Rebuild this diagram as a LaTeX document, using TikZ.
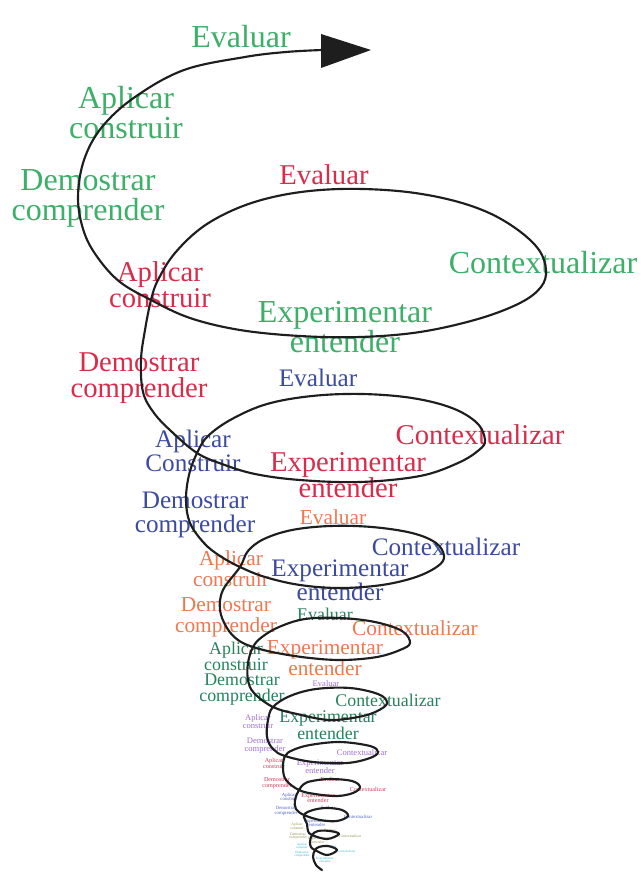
\documentclass[tikz,border=0pt]{standalone}
\usepackage{fontspec}
\setmainfont{Liberation Serif}
\definecolor{cgreen}{RGB}{60,175,105}
\definecolor{cred}{RGB}{215,45,75}
\definecolor{cblue}{RGB}{60,75,160}
\definecolor{corange}{RGB}{240,120,80}
\definecolor{cdgreen}{RGB}{40,130,95}
\definecolor{cpurple}{RGB}{160,110,210}
\definecolor{cmag}{RGB}{210,60,90}
\definecolor{csblue}{RGB}{80,100,200}
\definecolor{colive}{RGB}{150,150,90}
\definecolor{ccyan}{RGB}{60,180,210}
\definecolor{cline}{RGB}{30,30,30}
\tikzset{
  lab/.style={inner sep=0pt, align=center},
  gA/.style={lab, text=cgreen, font=\fontsize{24}{22.5}\selectfont},
  gB/.style={lab, text=cred, font=\fontsize{21.5}{19.5}\selectfont},
  gC/.style={lab, text=cblue, font=\fontsize{18.9}{18}\selectfont},
  gD/.style={lab, text=corange, font=\fontsize{16}{15.5}\selectfont},
  gE/.style={lab, text=cdgreen, font=\fontsize{13.4}{12}\selectfont},
  gF/.style={lab, text=cpurple, font=\fontsize{6.4}{6}\selectfont},
  gG/.style={lab, text=cmag, font=\fontsize{4.6}{4.4}\selectfont},
  gH/.style={lab, text=csblue, font=\fontsize{3.6}{3.4}\selectfont},
  gI/.style={lab, text=colive, font=\fontsize{2.8}{2.7}\selectfont},
  gJ/.style={lab, text=ccyan, font=\fontsize{2.4}{2.3}\selectfont},
  spiral/.style={draw=cline, line width=1.6pt, line cap=round, line join=round}
}
\begin{document}
\begin{tikzpicture}[x=0.75pt,y=-0.75pt]
\useasboundingbox (0,0) rectangle (640,874);
\fill[white] (0,0) rectangle (640,874);

% group 1 (green)
\node[gA] (g1e) at (241,37) {Evaluar};
\node[gA] (g1a) at (126,113) {Aplicar\\construir};
\node[gA] (g1d) at (88,198) {Demostrar\\comprender};
\node[gA] (g1c) at (543,263) {Contextualizar};
\node[gA] (g1x) at (345,327) {Experimentar\\entender};
% group 2 (red)
\node[gB] (g2e) at (324,175) {Evaluar};
\node[gB] (g2a) at (160,285) {Aplicar\\construir};
\node[gB] (g2d) at (139,378) {Demostrar\\comprender};
\node[gB] (g2c) at (480,435) {Contextualizar};
\node[gB] (g2x) at (348,475) {Experimentar\\entender};
% group 3 (blue)
\node[gC] (g3e) at (318,378) {Evaluar};
\node[gC] (g3a) at (193,451) {Aplicar\\Construir};
\node[gC] (g3d) at (195,515) {Demostrar\\comprender};
\node[gC] (g3c) at (446,547) {Contextualizar};
\node[gC] (g3x) at (340,580) {Experimentar\\entender};
% group 4 (orange)
\node[gD] (g4e) at (333,517) {Evaluar};
\node[gD] (g4a) at (231,569) {Aplicar\\construir};
\node[gD] (g4d) at (226,617) {Demostrar\\comprender};
\node[gD] (g4c) at (415,628) {Contextualizar};
\node[gD] (g4x) at (325,658) {Experimentar\\entender};
% group 5 (dark green)
\node[gE] (g5e) at (325,614) {Evaluar};
\node[gE] (g5a) at (236,656) {Aplicar\\construir};
\node[gE] (g5d) at (242,690) {Demostrar\\comprender};
\node[gE] (g5c) at (388,700) {Contextualizar};
\node[gE] (g5x) at (328,725) {Experimentar\\entender};
% group 6 (purple)
\node[gF] (g6e) at (326,684) {Evaluar};
\node[gF] (g6a) at (258,722) {Aplicar\\construir};
\node[gF] (g6d) at (265,746) {Demostrar\\comprender};
\node[gF] (g6c) at (362,753) {Contextualizar};
\node[gF] (g6x) at (320,767) {Experimentar\\entender};
% group 7
\node[gG] (g7e) at (330,779) {Evaluar};
\node[gG] (g7a) at (274,763) {Aplicar\\construir};
\node[gG] (g7d) at (277,783) {Demostrar\\comprender};
\node[gG] (g7c) at (368,789) {Contextualizar};
\node[gG] (g7x) at (318,798) {Experimentar\\entender};
% group 8
\node[gH] (g8e) at (328,808) {Evaluar};
\node[gH] (g8a) at (289,797) {Aplicar\\construir};
\node[gH] (g8d) at (286,811) {Demostrar\\comprender};
\node[gH] (g8c) at (358,817) {Contextualizar};
\node[gH] (g8x) at (317,823) {Experimentar\\entender};
% group 9
\node[gI] (g9e) at (330,830) {Evaluar};
\node[gI] (g9a) at (297,826) {Aplicar\\construir};
\node[gI] (g9d) at (298,836) {Demostrar\\comprender};
\node[gI] (g9c) at (350,836) {Contextualizar};
\node[gI] (g9x) at (318,840) {Experimentar\\entender};
% group 10
\node[gJ] (g10e) at (331,846) {Evaluar};
\node[gJ] (g10a) at (302,846) {Aplicar\\construir};
\node[gJ] (g10d) at (302,854) {Demostrar\\comprender};
\node[gJ] (g10c) at (346,851) {Contextualizar};
\node[gJ] (g10x) at (325,860) {Experimentar\\entender};

% spiral
\draw[spiral] plot[smooth, tension=0.6] coordinates {
(322,50) (286,52) (245,57) (184,70) (135,97) (102,127) (84,160) (78,198) (84,232) (98,258) (120,282) (151,300)
(190,318) (240,330) (300,336) (360,337) (420,332) (478,319) (520,303) (541,287) (546,270)
(539,250) (518,230) (487,212) (447,199) (398,191) (340,189) (288,194) (243,206) (204,226) (175,253) (158,280) (151,300)
(145,330) (141,360) (143,392) (154,413) (172,432) (197,453)
(222,464) (255,474) (300,480) (360,482) (420,476) (458,463) (479,450) (485,440)
(477,423) (452,408) (412,398) (362,394) (312,396) (267,404) (232,419) (208,436) (197,453)
(189,475) (186,500) (190,523) (204,543) (220,556) (240,567)
(265,577) (300,585) (340,588) (382,585) (416,577) (438,566) (444,556)
(436,543) (412,533) (372,527) (330,526) (292,530) (264,539) (248,551) (240,567)
(223,590) (220,610) (227,628) (238,640) (253,647)
(277,653) (310,658) (343,660) (377,657) (400,650) (410,643)
(402,631) (375,622) (340,618) (305,619) (279,627) (262,637) (253,647)
(248,663) (248,680) (254,693) (273,707)
(297,714) (330,720) (363,716) (381,709) (387,702)
(378,694) (350,688) (316,689) (290,696) (273,707)
(268,720) (267,737) (273,749) (285,756)
(313,762) (347,763) (370,758) (378,752)
(370,746) (340,742) (310,745) (293,750) (285,756)
(283,768) (286,780) (299,790)
(315,794) (337,796) (353,793) (360,787)
(352,781) (330,779) (312,781) (304,784) (299,790)
(295,800) (296,809) (304,815)
(320,820) (337,821) (348,816) (342,810) (327,808) (313,810) (304,815)
(307,824) (308,831) (312,835)
(327,839) (339,834) (330,831) (318,831) (312,835)
(310,842) (311,847) (315,850)
(327,855) (337,850) (328,846) (319,847) (315,850)
(313,857) (316,865) (322,870)
};
\fill[cline] (321,34) -- (371,50) -- (321,68) -- cycle;
\end{tikzpicture}
\end{document}
